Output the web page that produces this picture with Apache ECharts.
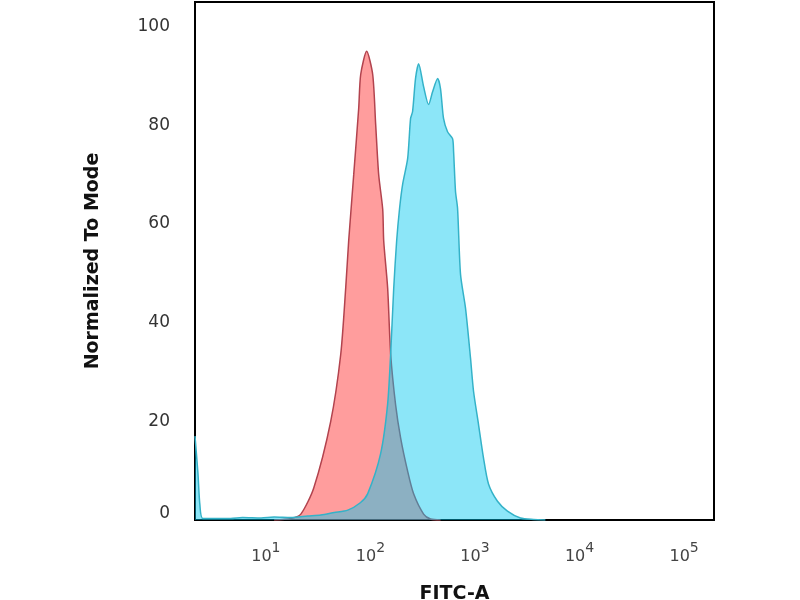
<!DOCTYPE html>
<html>
<head>
<meta charset="utf-8">
<title>FITC-A histogram</title>
<script src="https://cdn.jsdelivr.net/npm/echarts/dist/echarts.min.js"></script>
<style>
  html, body { margin: 0; padding: 0; background: #fff; }
  #main { width: 800px; height: 600px; }
</style>
</head>
<body>
<div id="main"></div>
<script type="text/javascript">
// isotype control (red) : [FITC-A, % of mode]
var controlPoints = [
    [12, 0], [17.3, 0.3], [21.6, 1.2], [28.7, 6.5], [41.7, 20.0], [52.0, 33.6],
    [58.0, 47.0], [61.9, 56.5], [69.2, 70.0], [77.2, 83.4], [80.7, 90.3], [92.0, 95.0],
    [105.1, 90.3], [112.2, 80.2], [119.9, 70.0], [131, 63.0], [134, 56.5], [146.1, 47.0],
    [156.1, 33.6], [174.2, 23.3], [194.5, 16.6], [226.8, 9.9], [258.8, 5.3], [322.4, 1.2],
    [375.6, 0.2], [468.6, 0]
];
// stained sample (blue)
var samplePoints = [
    [2.1, 17.0], [2.24, 9.5], [2.34, 3.0], [2.5, 0.3], [4.6, 0.3], [6, 0.5], [9, 0.4],
    [12, 0.6], [17.3, 0.5], [25, 0.8], [33.5, 1.0], [45, 1.5], [60.7, 2.0], [80, 3.5],
    [94, 5.3], [125, 13.4], [146, 23.5], [156, 33.6], [167, 47.0], [178, 56.5], [190, 63.2],
    [203, 68.0], [227, 73.3], [242, 81.4], [253, 82.8], [270, 89.5], [289, 92.5], [322, 87.9],
    [360, 84.2], [393, 86.8], [439, 89.5], [468, 87.4], [500, 81.4], [546, 78.7], [610, 77.3],
    [624, 74.7], [651, 66.6], [681, 63.2], [727, 49.8], [812, 42.9], [906, 32.8], [968, 26.1],
    [1080, 19.4], [1205, 12.6], [1346, 7.3], [1640, 3.8], [2043, 1.8], [2720, 0.4],
    [3619, 0.1], [4711, 0]
];
var xRange = [2.1, 193000];
var yTicks = [0, 20, 40, 60, 80, 100];
var xTitle = 'FITC-A';
var yTitle = 'Normalized To Mode';

var myChart = echarts.init(document.getElementById('main'));

var option = {
    backgroundColor: '#fff',
    animation: false,
    grid: {
        left: 195, right: 86, top: 2, bottom: 80,
        outerBoundsMode: 'none',
        show: true, borderColor: '#000', borderWidth: 2, backgroundColor: 'transparent'
    },
    xAxis: {
        type: 'log',
        logBase: 10,
        min: xRange[0],
        max: xRange[1],
        name: xTitle,
        nameLocation: 'middle',
        nameGap: 65,
        nameTextStyle: { fontFamily: 'DejaVu Sans', fontWeight: 'bold', fontSize: 19, color: '#111' },
        axisLine: { show: false },
        axisTick: { show: false },
        splitLine: { show: false },
        axisLabel: {
            margin: 21,
            showMinLabel: false,
            showMaxLabel: false,
            formatter: function (v) {
                var e = Math.log10(v);
                var r = Math.round(e);
                if (Math.abs(e - r) > 1e-6) return '';
                return '{b|10}{s|' + r + '}';
            },
            rich: {
                b: { fontFamily: 'DejaVu Sans', fontSize: 16, color: '#444', lineHeight: 24, verticalAlign: 'bottom' },
                s: { fontFamily: 'DejaVu Sans', fontSize: 14, color: '#444', lineHeight: 24, verticalAlign: 'top' }
            }
        }
    },
    yAxis: {
        type: 'value',
        min: yTicks[0],
        max: 105,
        interval: 20,
        name: yTitle,
        nameLocation: 'middle',
        nameGap: 92,
        nameTextStyle: { fontFamily: 'DejaVu Sans', fontWeight: 'bold', fontSize: 19, color: '#111' },
        axisLine: { show: false },
        axisTick: { show: false },
        splitLine: { show: false },
        axisLabel: {
            margin: 25,
            showMaxLabel: false,
            fontFamily: 'DejaVu Sans',
            fontSize: 17,
            color: '#333',
            formatter: function (v) {
                if (yTicks.indexOf(v) < 0) return '';
                return v === 0 ? '{z|0}' : String(v);
            },
            rich: {
                z: { fontFamily: 'DejaVu Sans', fontSize: 17, color: '#333', padding: [0, 0, 13, 0] }
            }
        }
    },
    series: [
        {
            name: 'control',
            type: 'line',
            data: controlPoints,
            smooth: 0.25,
            showSymbol: false,
            lineStyle: { color: '#b2434e', width: 1.5 },
            areaStyle: { color: 'rgba(255, 60, 60, 0.5)', opacity: 1 },
            z: 2
        },
        {
            name: 'sample',
            type: 'line',
            data: samplePoints,
            smooth: 0.25,
            showSymbol: false,
            lineStyle: { color: '#34b2c8', width: 1.5 },
            areaStyle: { color: 'rgba(0, 200, 240, 0.45)', opacity: 1 },
            z: 3
        }
    ]
};

myChart.setOption(option);
</script>
</body>
</html>
